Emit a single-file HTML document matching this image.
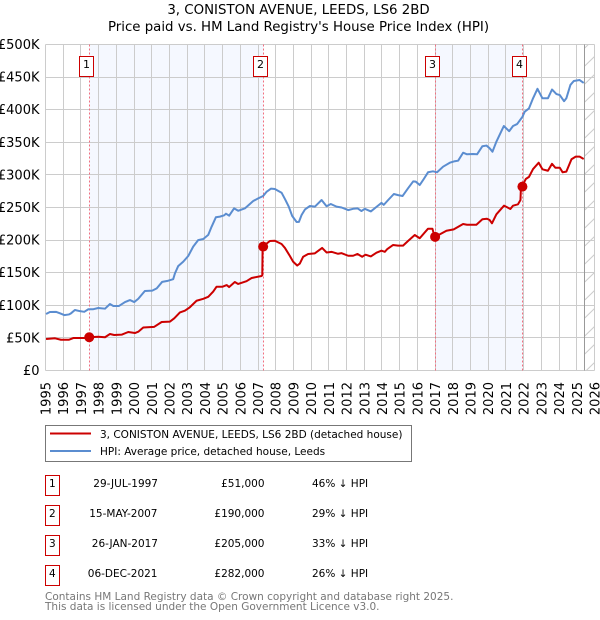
<!DOCTYPE html>
<html>
<head>
<meta charset="utf-8">
<style>
html,body{margin:0;padding:0;background:#fff;width:600px;height:620px;overflow:hidden}
svg{display:block}
text{font-family:"DejaVu Sans","Liberation Sans",sans-serif;fill:#000}
</style>
</head>
<body>
<svg id="chart" xmlns="http://www.w3.org/2000/svg" width="600" height="620" viewBox="0 0 600 620">
  <text x="298.5" y="14" font-size="13.33" text-anchor="middle">3, CONISTON AVENUE, LEEDS, LS6 2BD</text>
  <text x="298.5" y="31" font-size="13.33" text-anchor="middle">Price paid vs. HM Land Registry's House Price Index (HPI)</text>
  <g id="plot"></g>
  <g>
    <rect x="45.5" y="425.5" width="366" height="36" fill="#fff" stroke="#777" stroke-width="1"/>
    <line x1="50" x2="91" y1="433.5" y2="433.5" stroke="#cc0000" stroke-width="2"/>
    <text x="100" y="438" font-size="10.5">3, CONISTON AVENUE, LEEDS, LS6 2BD (detached house)</text>
    <line x1="50" x2="91" y1="451" y2="451" stroke="#5b8dd0" stroke-width="2"/>
    <text x="100" y="455" font-size="10.5">HPI: Average price, detached house, Leeds</text>
  </g>
  <g>
    <g>
      <rect x="45.5" y="475.5" width="14" height="20" fill="#fff" stroke="#cc0000"/>
      <text x="52.3" y="487" font-size="10.5" text-anchor="middle">1</text>
      <text x="158" y="487" font-size="10.5" text-anchor="end">29-JUL-1997</text>
      <text x="264.5" y="487" font-size="10.5" text-anchor="end">£51,000</text>
      <text x="312" y="487" font-size="10.5">46% ↓ HPI</text>
    </g>
    <g>
      <rect x="45.5" y="505.5" width="14" height="20" fill="#fff" stroke="#cc0000"/>
      <text x="52.3" y="517" font-size="10.5" text-anchor="middle">2</text>
      <text x="157.5" y="517" font-size="10.5" text-anchor="end">15-MAY-2007</text>
      <text x="264.5" y="517" font-size="10.5" text-anchor="end">£190,000</text>
      <text x="312" y="517" font-size="10.5">29% ↓ HPI</text>
    </g>
    <g>
      <rect x="45.5" y="535.5" width="14" height="20" fill="#fff" stroke="#cc0000"/>
      <text x="52.3" y="547" font-size="10.5" text-anchor="middle">3</text>
      <text x="158" y="547" font-size="10.5" text-anchor="end">26-JAN-2017</text>
      <text x="264.5" y="547" font-size="10.5" text-anchor="end">£205,000</text>
      <text x="312" y="547" font-size="10.5">33% ↓ HPI</text>
    </g>
    <g>
      <rect x="45.5" y="565.5" width="14" height="20" fill="#fff" stroke="#cc0000"/>
      <text x="52.3" y="577" font-size="10.5" text-anchor="middle">4</text>
      <text x="157.5" y="577" font-size="10.5" text-anchor="end">06-DEC-2021</text>
      <text x="264.5" y="577" font-size="10.5" text-anchor="end">£282,000</text>
      <text x="312" y="577" font-size="10.5">26% ↓ HPI</text>
    </g>
  </g>
  <text x="45" y="600" font-size="10.5" style="fill:#777">Contains HM Land Registry data © Crown copyright and database right 2025.</text>
  <text x="45" y="610" font-size="10.5" style="fill:#777">This data is licensed under the Open Government Licence v3.0.</text>
</svg>
<script>
var yearTicks = [1995,1996,1997,1998,1999,2000,2001,2002,2003,2004,2005,2006,2007,2008,2009,2010,2011,2012,2013,2014,2015,2016,2017,2018,2019,2020,2021,2022,2023,2024,2025,2026];
var valueTicks = [0,50,100,150,200,250,300,350,400,450,500];
var valueTickLabels = ["£0","£50K","£100K","£150K","£200K","£250K","£300K","£350K","£400K","£450K","£500K"];
var saleNumbers = ["1","2","3","4"];
var saleDates = [1997.47,2007.29,2017.0,2021.93];
var salePrices = [51,190,205,282];
var dataEndDate = 2025.42;
var hpiDates = [1995.03,1995.25,1995.59,1995.82,1996.06,1996.33,1996.44,1996.66,1996.95,1997.19,1997.42,1997.70,1997.98,1998.36,1998.64,1998.83,1999.15,1999.49,1999.77,2000.01,2000.24,2000.61,2001.03,2001.28,2001.59,2001.93,2002.21,2002.31,2002.49,2002.78,2003.06,2003.34,2003.62,2003.91,2004.19,2004.38,2004.62,2004.85,2005.09,2005.19,2005.37,2005.65,2005.88,2006.26,2006.73,2007.01,2007.29,2007.48,2007.73,2007.95,2008.33,2008.54,2008.74,2008.93,2009.18,2009.31,2009.46,2009.65,2009.93,2010.21,2010.59,2010.87,2011.11,2011.43,2011.72,2012.09,2012.37,2012.62,2012.84,2013.03,2013.37,2013.69,2013.97,2014.10,2014.35,2014.67,2014.91,2015.16,2015.47,2015.76,2015.91,2016.13,2016.32,2016.60,2016.88,2017.11,2017.45,2017.83,2018.11,2018.30,2018.58,2018.80,2019.14,2019.37,2019.67,2019.90,2020.08,2020.24,2020.46,2020.88,2021.18,2021.40,2021.63,2021.93,2022.06,2022.30,2022.53,2022.78,2023.06,2023.37,2023.60,2023.85,2024.04,2024.28,2024.41,2024.64,2024.83,2025.16,2025.39];
var hpiValues = [86.6,89.7,90,87.7,85,86,87.7,92.8,91,90,93.9,94,95.9,94.8,102,99,99,105,108,105,110,122,122.5,126,136,137.7,140,149,160,167,175.6,190,200,201.7,208,220.6,235,236,238,240.5,237.5,248.7,245,248.7,260,264,267.6,274,278.9,278.4,272.7,262,251,237,227.8,228,238.5,247,252.3,251.3,261.5,252,255.4,251.3,250,246,248,248.7,244.6,248,244,251,257,254,261.5,270.7,269,267.6,279.4,290,289.6,284.5,292,304,305.5,304,312.6,318.7,321,321.8,334,331.6,332,331.6,344,345,340.8,335.6,351,375,367,375,378,389,397,402,417.5,432,417.5,417.5,431,424,422.5,413,417.5,438,444,445.5,441];
var priceDates = [1995.03,1995.54,1995.87,1996.33,1996.57,1997.19,1997.47,1997.98,1998.36,1998.64,1998.88,1999.30,1999.67,2000.05,2000.24,2000.52,2001.14,2001.56,2002.03,2002.27,2002.59,2002.87,2003.15,2003.53,2003.91,2004.19,2004.47,2004.66,2005.00,2005.23,2005.37,2005.69,2005.88,2006.35,2006.64,2007.20,2007.24,2007.26,2007.29,2007.67,2007.95,2008.33,2008.52,2008.80,2008.98,2009.21,2009.36,2009.55,2009.83,2010.21,2010.62,2010.87,2011.15,2011.52,2011.72,2012.09,2012.37,2012.62,2012.88,2013.07,2013.37,2013.69,2013.97,2014.16,2014.29,2014.63,2014.91,2015.19,2015.47,2015.85,2016.13,2016.60,2016.85,2016.92,2017.00,2017.64,2018.05,2018.58,2018.80,2019.33,2019.67,2019.93,2020.08,2020.21,2020.46,2020.89,2021.25,2021.40,2021.68,2021.82,2021.84,2021.91,2022.12,2022.30,2022.53,2022.85,2023.06,2023.37,2023.60,2023.79,2024.04,2024.20,2024.41,2024.70,2024.94,2025.16,2025.39];
var priceValues = [48.3,49.4,47.2,47.2,49.8,49.8,51,51.8,51,56,54.4,55,59,57.5,59.5,66,67,74.4,75,80,89,91.7,97,107,110,113,121,128.5,128.5,131,128,135.7,132.7,137,141.9,145,146,189,190.5,198.6,199,194,188,175.6,167,161,164,174.5,178.7,179.7,188,181,182,179,180,176,176,178.7,174.5,177.6,175,180.7,183.8,182,186,192.5,191.5,191.5,198.6,207.8,202.8,217.5,217.5,210,205,214.4,216.5,224.7,223.6,223.6,232,232.8,230.8,225.7,239.6,252.8,247.7,252.8,254.9,261.5,277,282.5,293.7,297,309,318.7,308.6,306.4,317,311,311,304,305,324,328,328,324.4];

var plotLeft = 45.5, plotRight = 594.5, plotTop = 44.5, plotBottom = 370.5;
function xScale(year){ return plotLeft + (year - 1995) * (plotRight - plotLeft) / 31; }
function yScale(k){ return plotBottom - k * (plotBottom - plotTop) / 500; }
function px(n){ return Math.round(n - 0.5) + 0.5; }

var NS = "http://www.w3.org/2000/svg";
var plot = document.getElementById("plot");
function make(tag, attrs){
  var e = document.createElementNS(NS, tag);
  for (var k in attrs) e.setAttribute(k, attrs[k]);
  plot.appendChild(e);
  return e;
}

// sale-to-sale shaded bands
for (var b = 0; b < saleDates.length; b += 2) {
  var band = make("rect", {x: xScale(saleDates[b]), y: plotTop, width: xScale(saleDates[b+1]) - xScale(saleDates[b]), height: plotBottom - plotTop, fill: "#f5f8ff"});
  
  
}
// grid
yearTicks.forEach(function(y){
  var gx = px(xScale(y));
  var g = make("line", {x1: gx, x2: gx, y1: plotTop, y2: plotBottom, stroke: "#cccccc", "stroke-width": 1});
  
  
  var t = make("text", {transform: "translate(" + (xScale(y) + 5) + ",382) rotate(-90)", "font-size": 13, "text-anchor": "end"});
  t.textContent = y;
  
  
});
valueTicks.forEach(function(v, i){
  var gy = px(yScale(v));
  var g = make("line", {x1: plotLeft, x2: plotRight, y1: gy, y2: gy, stroke: "#cccccc", "stroke-width": 1});
  
  
  var t = make("text", {x: 39.5, y: yScale(v) + 4.5, "font-size": 13, "text-anchor": "end"});
  t.textContent = valueTickLabels[i];
  
  
});
// hatched projection region
var hatchLeft = xScale(dataEndDate);
var hatchClip = make("clipPath", {id: "hatch-clip"});
var clipRect = document.createElementNS(NS, "rect");
clipRect.setAttribute("x", hatchLeft);
clipRect.setAttribute("y", plotTop);
clipRect.setAttribute("width", plotRight - hatchLeft);
clipRect.setAttribute("height", plotBottom - plotTop);
hatchClip.appendChild(clipRect);
for (var hy = plotTop - 6; hy < plotBottom + 24; hy += 18) {
  var h = make("line", {x1: hatchLeft, x2: plotRight, y1: hy + 10, y2: hy, stroke: "#cccccc", "stroke-width": 1, "clip-path": "url(#hatch-clip)"});
  
  
}
var endLine = make("line", {x1: px(hatchLeft), x2: px(hatchLeft), y1: plotTop, y2: plotBottom, stroke: "#999999", "stroke-width": 1});


// sale marker lines
saleDates.forEach(function(d){
  var sx = px(xScale(d));
  var l = make("line", {x1: sx, x2: sx, y1: plotTop, y2: plotBottom, stroke: "#f07080", "stroke-width": 1, "stroke-dasharray": "2,2"});
  
  
});
// series
function linePath(dates, values){
  return dates.map(function(d, i){ return (i ? "L" : "M") + xScale(d).toFixed(2) + " " + yScale(values[i]).toFixed(2); }).join("");
}
var hpiLine = make("path", {d: linePath(hpiDates, hpiValues), fill: "none", stroke: "#5b8dd0", "stroke-width": 2, "stroke-linejoin": "round"});


var priceLine = make("path", {d: linePath(priceDates, priceValues), fill: "none", stroke: "#cc0000", "stroke-width": 2, "stroke-linejoin": "round"});


// sale points and number flags
saleDates.forEach(function(d, i){
  var c = make("circle", {cx: xScale(d), cy: yScale(salePrices[i]), r: 5, fill: "#cc0000"});
  
  
  var cx = Math.round(xScale(d)) - 3;
  var r = make("rect", {x: cx - 7 + 0.5, y: 56.5, width: 14, height: 20, fill: "#fff", stroke: "#cc0000", "stroke-width": 1});
  
  
  var t = make("text", {x: cx + 0.5, y: 68, "font-size": 11, "text-anchor": "middle"});
  t.textContent = saleNumbers[i];
  
  
});
</script>
</body>
</html>
